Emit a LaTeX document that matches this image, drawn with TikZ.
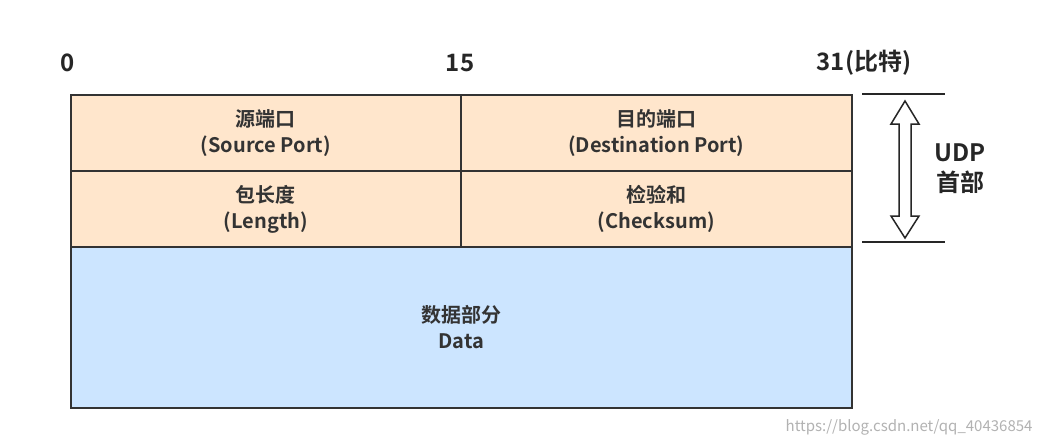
\documentclass[tikz,border=0pt]{standalone}
\usepackage{fontspec}
\setmainfont{Noto Sans CJK SC}[BoldFont={* Bold}]
\begin{document}
\begin{tikzpicture}[x=1pt,y=-1pt,
  cell/.style={draw=black!80,line width=1.8pt,font=\bfseries\fontsize{20}{26}\selectfont,align=center,text=black!80},
  lab/.style={font=\bfseries\fontsize{24}{30}\selectfont,text=black!85}]
\useasboundingbox[fill=white] (0,0) rectangle (1044,445);
\fill[fill={rgb,255:red,255;green,230;blue,204}] (70,94) rectangle (851,246);
\fill[fill={rgb,255:red,204;green,229;blue,255}] (70,246) rectangle (851,407);
\node[cell,minimum width=390pt,minimum height=76pt,anchor=north west] (sp) at (70,94) {源端口\\(Source Port)};
\node[cell,minimum width=391pt,minimum height=76pt,anchor=north west] (dp) at (460,94) {目的端口\\(Destination Port)};
\node[cell,minimum width=390pt,minimum height=76pt,anchor=north west] (len) at (70,170) {包长度\\(Length)};
\node[cell,minimum width=391pt,minimum height=76pt,anchor=north west] (cs) at (460,170) {检验和\\(Checksum)};
\node[cell,minimum width=781pt,minimum height=161pt,anchor=north west] (data) at (70,246) {数据部分\\Data};
\node[lab] (b0) at (68,63) {0};
\node[lab] (b15) at (460,63) {15};
\node[lab] (b31) at (864,63) {31(比特)};
\draw[black!85,line width=1.8pt] (862,94) -- (945,94);
\draw[black!85,line width=1.8pt] (862,242) -- (945,242);
\draw[black!85,line width=1.5pt,fill=white] (905,101) -- (919,124) -- (911,124) -- (911,216) -- (919,216) -- (905,238) -- (891,216) -- (899,216) -- (899,124) -- (891,124) -- cycle;
\node[lab,align=center] (udp) at (960,169) {UDP\\首部};
\node[font=\fontsize{15}{18}\selectfont,text=black!30,anchor=east] (wm) at (1036,427) {https://blog.csdn.net/qq\_40436854};
\end{tikzpicture}
\end{document}
